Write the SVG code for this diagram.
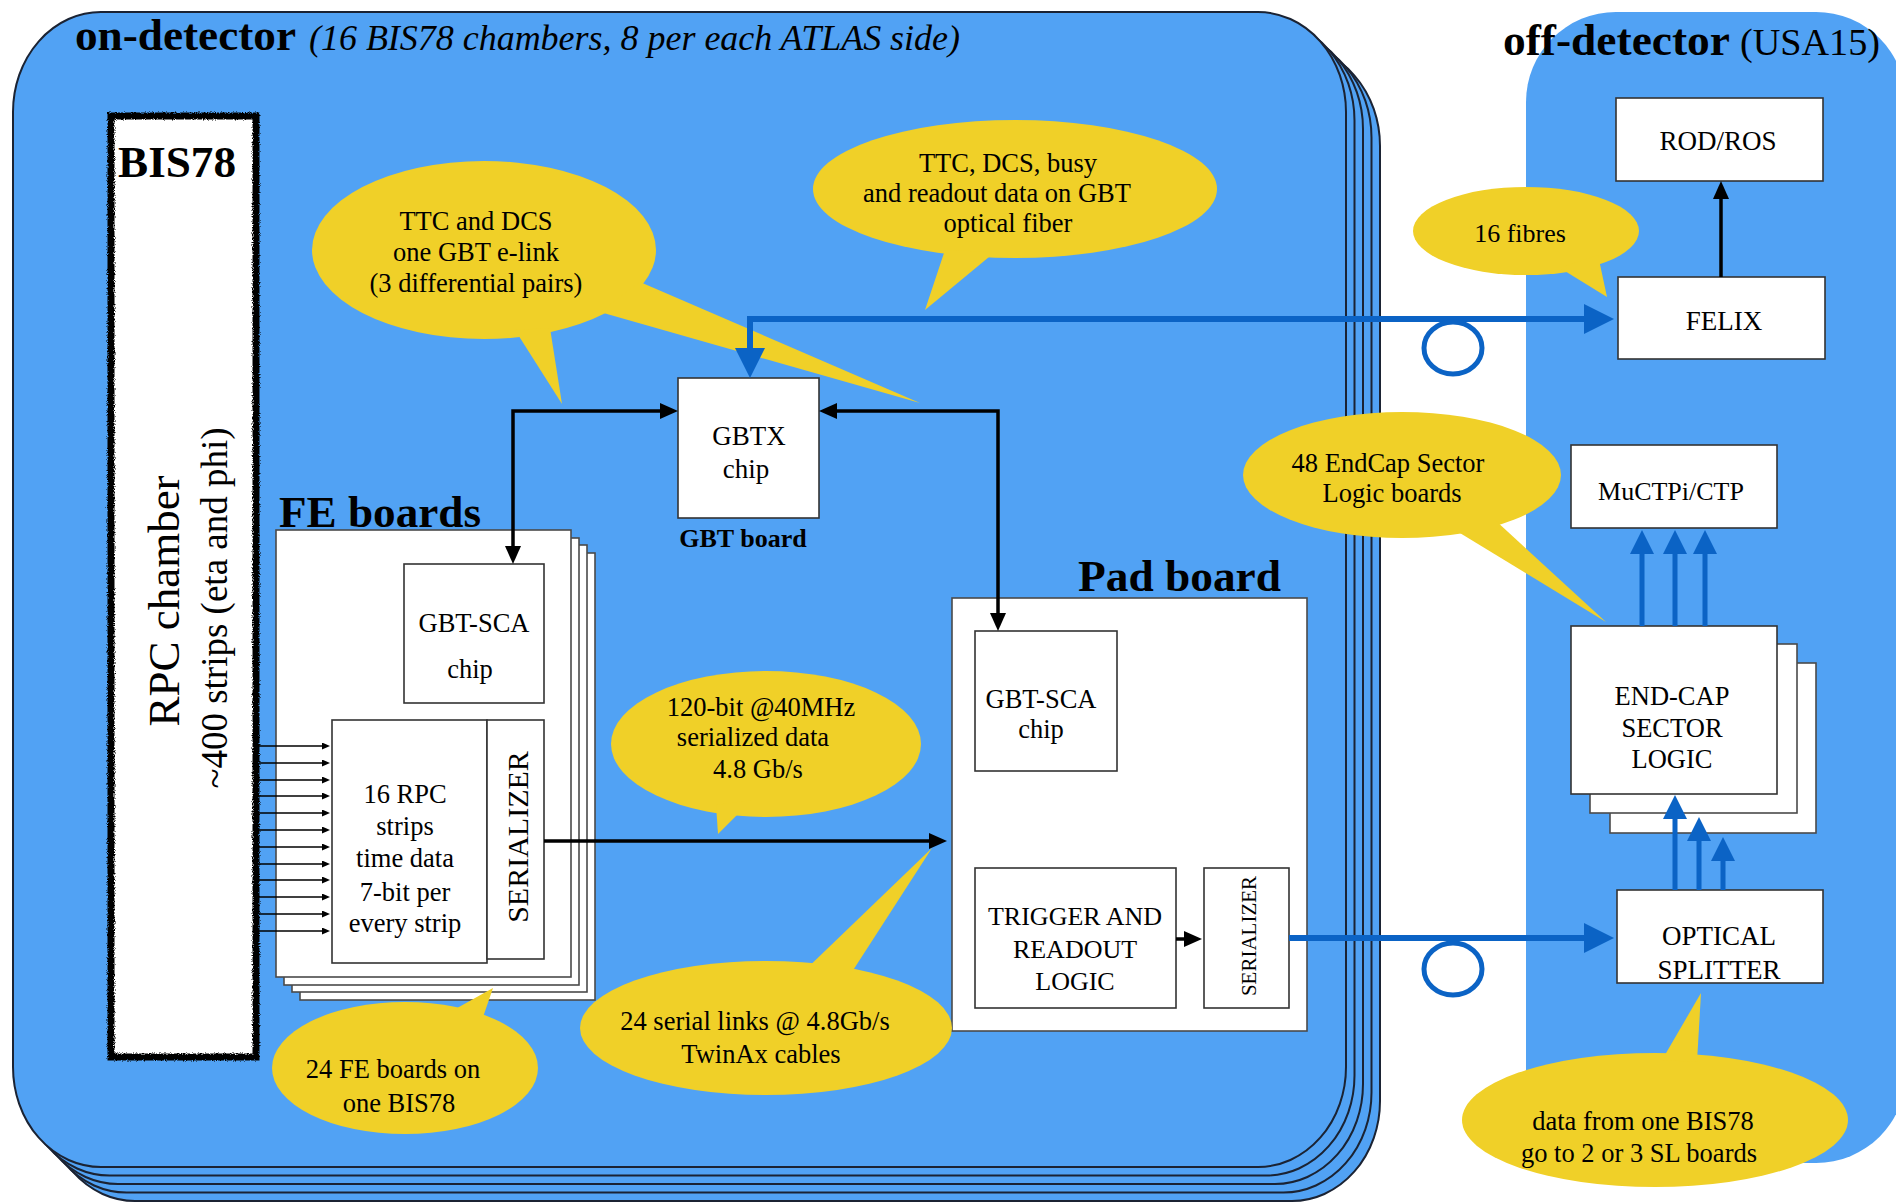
<svg xmlns="http://www.w3.org/2000/svg" width="1896" height="1202" viewBox="0 0 1896 1202">
<defs>
<style>
.panel{fill:#51A2F4;stroke:#1b2333;stroke-width:2}
.off{fill:#51A2F4}
.board{fill:#fff;stroke:#4a4a4a;stroke-width:1.6}
.box{fill:#fff;stroke:#333;stroke-width:1.6}
.bub{fill:#F0D028}
.t{font-family:"Liberation Serif","Times New Roman",serif;fill:#000}
.b{font-weight:bold}
.i{font-style:italic}
.c{text-anchor:middle}
.s{font-size:26.5px}
.blk{stroke:#000;stroke-width:3.5;fill:none}
.thin{stroke:#000;stroke-width:1.5;fill:none}
.blu{stroke:#0B63C5;stroke-width:6;fill:none}
.blu5{stroke:#0B63C5;stroke-width:5;fill:none}
</style>
<marker id="mb" markerUnits="userSpaceOnUse" markerWidth="18" markerHeight="16" refX="8" refY="8" orient="auto-start-reverse"><path d="M0,0 L18,8 L0,16 z" fill="#000"/></marker>
<marker id="ms" markerUnits="userSpaceOnUse" markerWidth="8" markerHeight="7" refX="4" refY="3.5" orient="auto"><path d="M0,0 L8,3.5 L0,7 z" fill="#000"/></marker>
<marker id="mB" markerUnits="userSpaceOnUse" markerWidth="30" markerHeight="30" refX="14" refY="15" orient="auto-start-reverse"><path d="M0,0 L30,15 L0,30 z" fill="#0B63C5"/></marker>
<marker id="mb2" markerUnits="userSpaceOnUse" markerWidth="24" markerHeight="24" refX="10" refY="12" orient="auto"><path d="M0,0 L24,12 L0,24 z" fill="#0B63C5"/></marker>
<filter id="rough" x="-5%" y="-5%" width="110%" height="110%"><feTurbulence type="fractalNoise" baseFrequency="0.9" numOctaves="2" seed="3"/><feDisplacementMap in="SourceGraphic" scale="4"/></filter>
</defs>
<rect width="1896" height="1202" fill="#fff"/>

<g id="on-detector-panel">
<rect class="panel" x="47" y="46" width="1333" height="1155" rx="88" ry="100"/>
<rect class="panel" x="38.5" y="37.5" width="1333" height="1155" rx="88" ry="100"/>
<rect class="panel" x="30" y="29" width="1333" height="1155" rx="88" ry="100"/>
<rect class="panel" x="21.5" y="20.5" width="1333" height="1155" rx="88" ry="100"/>
<rect class="panel" x="13" y="12" width="1333" height="1155" rx="88" ry="100"/>
<text class="t b" x="75" y="50" font-size="44" textLength="221" lengthAdjust="spacingAndGlyphs">on-detector</text>
<text class="t i" x="309" y="50" font-size="36" textLength="651" lengthAdjust="spacingAndGlyphs">(16 BIS78 chambers, 8 per each ATLAS side)</text>
</g>

<g id="off-detector-panel">
<rect class="off" x="1526" y="12" width="380" height="1151" rx="90" ry="90"/>
<text class="t b" x="1503" y="55" font-size="44" textLength="227" lengthAdjust="spacingAndGlyphs">off-detector</text>
<text class="t" x="1740" y="55" font-size="37" textLength="140" lengthAdjust="spacingAndGlyphs">(USA15)</text>
</g>

<g id="bis78">
<rect x="111" y="116" width="145" height="941" fill="#fff"/>
<rect x="111" y="116" width="145" height="941" fill="none" stroke="#000" stroke-width="7" filter="url(#rough)"/>
<text class="t b" x="118" y="177" font-size="44" textLength="118" lengthAdjust="spacingAndGlyphs">BIS78</text>
<text class="t c" font-size="45" transform="translate(179,601) rotate(-90)">RPC chamber</text>
<text class="t c" font-size="37" transform="translate(227,608) rotate(-90)">~400 strips (eta and phi)</text>
</g>

<g id="fe-boards">
<rect class="board" x="300" y="553" width="295" height="447"/>
<rect class="board" x="292" y="545" width="295" height="447"/>
<rect class="board" x="284" y="538" width="295" height="447"/>
<rect class="board" x="276" y="530" width="295" height="447"/>
<text class="t b" x="279" y="527" font-size="44" textLength="202" lengthAdjust="spacingAndGlyphs">FE boards</text>
</g>
<g id="fe-gbt-sca">
<rect class="box" x="404" y="564" width="140" height="139"/>
<text class="t c s" x="474" y="632">GBT-SCA</text>
<text class="t c s" x="470" y="678">chip</text>
</g>
<g id="fe-strips">
<rect class="box" x="332" y="720" width="155" height="243"/>
<text class="t c s" x="405" y="803">16 RPC</text>
<text class="t c s" x="405" y="835">strips</text>
<text class="t c s" x="405" y="867">time data</text>
<text class="t c s" x="405" y="901">7-bit per</text>
<text class="t c s" x="405" y="932">every strip</text>
</g>
<g id="fe-serializer">
<rect class="box" x="487" y="720" width="57" height="239"/>
<text class="t c" font-size="30" transform="translate(528,837) rotate(-90)">SERIALIZER</text>
</g>

<g id="gbtx">
<rect class="box" x="678" y="378" width="141" height="140"/>
<text class="t c" font-size="27" x="749" y="445">GBTX</text>
<text class="t c" font-size="27" x="746" y="478">chip</text>
<text class="t c b" font-size="26" x="743" y="547">GBT board</text>
</g>

<g id="pad-board">
<rect class="board" x="952" y="598" width="355" height="433"/>
<text class="t b" x="1078" y="591" font-size="44" textLength="203" lengthAdjust="spacingAndGlyphs">Pad board</text>
</g>
<g id="pad-gbt-sca">
<rect class="box" x="975" y="631" width="142" height="140"/>
<text class="t c s" x="1041" y="708">GBT-SCA</text>
<text class="t c s" x="1041" y="738">chip</text>
</g>
<g id="trigger-logic">
<rect class="box" x="975" y="868" width="201" height="140"/>
<text class="t c" font-size="26" x="1075" y="925">TRIGGER AND</text>
<text class="t c" font-size="26" x="1075" y="958">READOUT</text>
<text class="t c" font-size="26" x="1075" y="990">LOGIC</text>
</g>
<g id="pad-serializer">
<rect class="box" x="1204" y="868" width="85" height="140"/>
<text class="t c" font-size="21" transform="translate(1256,936) rotate(-90)">SERIALIZER</text>
</g>

<g id="rod-ros">
<rect class="box" x="1616" y="98" width="207" height="83"/>
<text class="t c" font-size="27" x="1718" y="150">ROD/ROS</text>
</g>
<g id="felix">
<rect class="box" x="1618" y="277" width="207" height="82"/>
<text class="t c" font-size="27" x="1724" y="330">FELIX</text>
</g>
<g id="muctpi">
<rect class="box" x="1571" y="445" width="206" height="83"/>
<text class="t c" font-size="26" x="1671" y="500">MuCTPi/CTP</text>
</g>
<g id="endcap-sl">
<rect class="board" x="1610" y="663" width="206" height="170"/>
<rect class="board" x="1590" y="644" width="207" height="169"/>
<rect class="box" x="1571" y="626" width="206" height="168"/>
<text class="t c s" x="1672" y="705">END-CAP</text>
<text class="t c s" x="1672" y="737">SECTOR</text>
<text class="t c s" x="1672" y="768">LOGIC</text>
</g>
<g id="optical-splitter">
<rect class="box" x="1617" y="890" width="206" height="93"/>
<text class="t c" font-size="27" x="1719" y="945">OPTICAL</text>
<text class="t c" font-size="27" x="1719" y="979">SPLITTER</text>
</g>

<g id="bubble-ttc-dcs">
<ellipse class="bub" cx="484" cy="250" rx="172" ry="89"/>
<polygon class="bub" points="515,330 562,404 550,328"/>
<polygon class="bub" points="640,282 920,403 600,312"/>
<text class="t c s" x="476" y="230">TTC and DCS</text>
<text class="t c s" x="476" y="261">one GBT e-link</text>
<text class="t c s" x="476" y="292">(3 differential pairs)</text>
</g>
<g id="bubble-ttc-busy">
<ellipse class="bub" cx="1015" cy="189" rx="202" ry="69"/>
<polygon class="bub" points="945,250 925,310 995,252"/>
<text class="t c s" x="1008" y="172">TTC, DCS, busy</text>
<text class="t c s" x="997" y="202">and readout data on GBT</text>
<text class="t c s" x="1008" y="232">optical fiber</text>
</g>
<g id="bubble-fibres">
<ellipse class="bub" cx="1526" cy="231" rx="113" ry="44"/>
<polygon class="bub" points="1560,268 1607,297 1598,255"/>
<text class="t c" font-size="26" x="1520" y="242">16 fibres</text>
</g>
<g id="bubble-endcap">
<ellipse class="bub" cx="1402" cy="475" rx="159" ry="63"/>
<polygon class="bub" points="1455,530 1606,622 1495,520"/>
<text class="t c s" x="1388" y="472">48 EndCap Sector</text>
<text class="t c s" x="1392" y="502">Logic boards</text>
</g>
<g id="bubble-120bit">
<ellipse class="bub" cx="766" cy="744" rx="155" ry="73"/>
<polygon class="bub" points="716,805 718,834 752,800"/>
<text class="t c s" x="761" y="716">120-bit @40MHz</text>
<text class="t c s" x="753" y="746">serialized data</text>
<text class="t c s" x="758" y="778">4.8 Gb/s</text>
</g>
<g id="bubble-serial-links">
<ellipse class="bub" cx="766" cy="1028" rx="186" ry="67"/>
<polygon class="bub" points="800,975 932,848 850,975"/>
<text class="t c s" x="755" y="1030">24 serial links @ 4.8Gb/s</text>
<text class="t c s" x="761" y="1063">TwinAx cables</text>
</g>
<g id="bubble-fe-boards">
<ellipse class="bub" cx="405" cy="1068" rx="133" ry="66"/>
<polygon class="bub" points="450,1012 493,988 482,1020"/>
<text class="t c s" x="393" y="1078">24 FE boards on</text>
<text class="t c s" x="399" y="1112">one BIS78</text>
</g>
<g id="bubble-splitter">
<ellipse class="bub" cx="1655" cy="1120" rx="193" ry="67"/>
<polygon class="bub" points="1662,1060 1701,993 1697,1062"/>
<text class="t c s" x="1643" y="1130">data from one BIS78</text>
<text class="t c s" x="1639" y="1162">go to 2 or 3 SL boards</text>
</g>

<g id="connectors">
<path class="thin" marker-end="url(#ms)" d="M259,746 L326,746"/>
<path class="thin" marker-end="url(#ms)" d="M259,763 L326,763"/>
<path class="thin" marker-end="url(#ms)" d="M259,780 L326,780"/>
<path class="thin" marker-end="url(#ms)" d="M259,796 L326,796"/>
<path class="thin" marker-end="url(#ms)" d="M259,813 L326,813"/>
<path class="thin" marker-end="url(#ms)" d="M259,830 L326,830"/>
<path class="thin" marker-end="url(#ms)" d="M259,847 L326,847"/>
<path class="thin" marker-end="url(#ms)" d="M259,864 L326,864"/>
<path class="thin" marker-end="url(#ms)" d="M259,880 L326,880"/>
<path class="thin" marker-end="url(#ms)" d="M259,897 L326,897"/>
<path class="thin" marker-end="url(#ms)" d="M259,914 L326,914"/>
<path class="thin" marker-end="url(#ms)" d="M259,931 L326,931"/>
<path class="blk" marker-start="url(#mb)" marker-end="url(#mb)" d="M513,554 L513,411 L668,411"/>
<path class="blk" marker-start="url(#mb)" marker-end="url(#mb)" d="M829,411 L998,411 L998,621"/>
<path class="blk" marker-end="url(#mb)" d="M544,841 L937,841"/>
<path class="blk" marker-end="url(#mb)" d="M1721,277 L1721,191"/>
<path class="blk" marker-end="url(#mb)" d="M1176,939 L1192,939"/>
<path class="blu" marker-start="url(#mB)" marker-end="url(#mB)" d="M750,362 L750,319 L1598,319"/>
<ellipse class="blu5" cx="1453" cy="348" rx="29" ry="26"/>
<path class="blu" marker-end="url(#mB)" d="M1289,938 L1598,938"/>
<ellipse class="blu5" cx="1453" cy="969" rx="29" ry="26"/>
<path class="blu5" marker-end="url(#mb2)" d="M1642,626 L1642,544"/>
<path class="blu5" marker-end="url(#mb2)" d="M1675,626 L1675,544"/>
<path class="blu5" marker-end="url(#mb2)" d="M1705,626 L1705,544"/>
<path class="blu5" marker-end="url(#mb2)" d="M1675,890 L1675,809"/>
<path class="blu5" marker-end="url(#mb2)" d="M1699,890 L1699,831"/>
<path class="blu5" marker-end="url(#mb2)" d="M1723,890 L1723,851"/>
</g>
</svg>
